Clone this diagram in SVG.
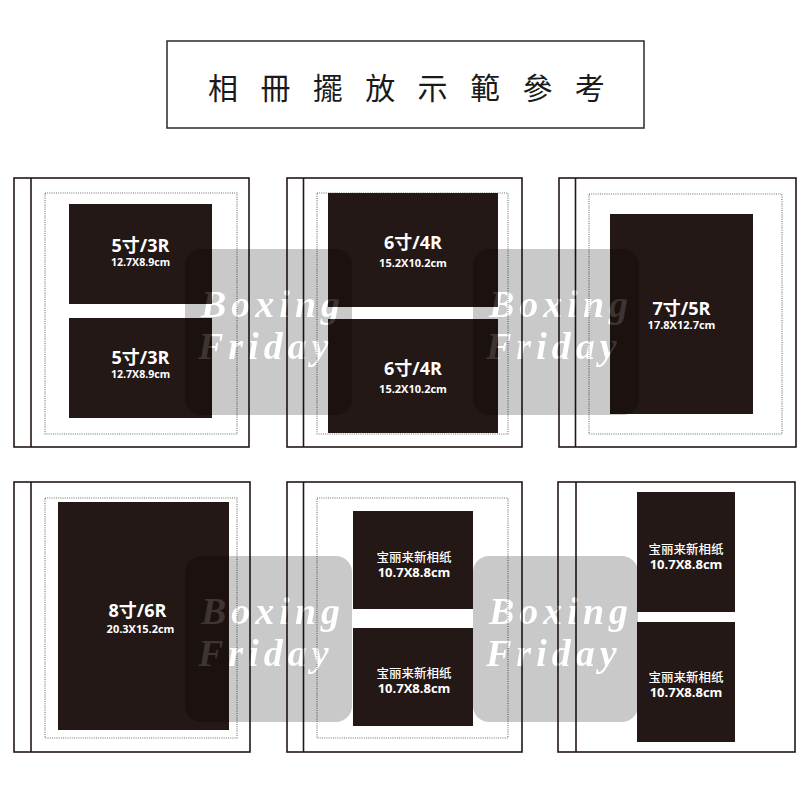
<svg xmlns="http://www.w3.org/2000/svg" xmlns:xlink="http://www.w3.org/1999/xlink" width="800" height="800" viewBox="0 0 800 800">
<style>
.page{fill:#ffffff;stroke:#231815;stroke-width:1.6}
.spine{stroke:#231815;stroke-width:1.6}
.dots{fill:none;stroke:#6f6f6f;stroke-width:1.1;stroke-dasharray:1 1.2}
.photo{fill:#231815}
.big{font-family:"Open Sans","Noto Sans CJK SC",sans-serif;font-weight:700;font-size:18px;fill:#ffffff;text-anchor:middle}
.small{font-family:"Open Sans","Noto Sans CJK SC",sans-serif;font-weight:700;font-size:10.6px;fill:#ffffff;text-anchor:middle}
.cn{font-family:"Noto Sans CJK SC",sans-serif;font-weight:500;font-size:12.5px;fill:#ffffff;text-anchor:middle}
.mid{font-family:"Open Sans","Noto Sans CJK SC",sans-serif;font-weight:700;font-size:13px;fill:#ffffff;text-anchor:middle}
.title{font-family:"Noto Sans CJK TC","Noto Sans CJK SC",serif;font-size:30px;font-weight:400;fill:#1a1a1a;letter-spacing:22.4px}
.wmbox{fill:#000000;fill-opacity:0.21}
.wmtext{font-family:"Liberation Serif",serif;font-style:italic;font-weight:700;font-size:38px;letter-spacing:5px}
</style>
<defs>
<g id="wmText">
<text class="wmtext" x="16" y="68">Boxing</text>
<text class="wmtext" x="13" y="110">Friday</text>
</g>
<mask id="wmMask" maskUnits="userSpaceOnUse" x="-5" y="-5" width="180" height="180">
<rect x="-5" y="-5" width="180" height="180" fill="#ffffff"/>
<use xlink:href="#wmText" href="#wmText" fill="#000000"/>
</mask>
</defs>
<rect x="0" y="0" width="800" height="800" fill="#ffffff"/>

<g id="title">
<rect x="167" y="41" width="477" height="87" fill="#ffffff" stroke="#2a2a2a" stroke-width="1.5"/>
<text class="title" x="208" y="99">相冊擺放示範參考</text>
</g>

<g id="album-5R-3R">
<rect class="page" x="14" y="178" width="235" height="269"/>
<line class="spine" x1="31" y1="178" x2="31" y2="447"/>
<rect class="dots" x="45" y="193" width="192" height="241"/>
<rect class="photo" x="69" y="204" width="143" height="100"/>
<rect class="photo" x="69" y="318" width="143" height="100"/>
<text class="big" x="140.5" y="252">5寸/3R</text>
<text class="small" x="140.5" y="266">12.7X8.9cm</text>
<text class="big" x="140.5" y="364">5寸/3R</text>
<text class="small" x="140.5" y="378">12.7X8.9cm</text>
</g>

<g id="album-6R-4R">
<rect class="page" x="287" y="178" width="235" height="269"/>
<line class="spine" x1="303.5" y1="178" x2="303.5" y2="447"/>
<rect class="dots" x="317" y="193" width="191" height="241"/>
<rect class="photo" x="328" y="193" width="170" height="114"/>
<rect class="photo" x="328" y="319" width="170" height="114"/>
<text class="big" x="413" y="249">6寸/4R</text>
<text class="small" x="413" y="267" style="font-size:11px">15.2X10.2cm</text>
<text class="big" x="413" y="375">6寸/4R</text>
<text class="small" x="413" y="393" style="font-size:11px">15.2X10.2cm</text>
</g>

<g id="album-7R-5R">
<rect class="page" x="559" y="178" width="237" height="269"/>
<line class="spine" x1="575.5" y1="178" x2="575.5" y2="447"/>
<rect class="dots" x="589" y="194" width="193" height="240"/>
<rect class="photo" x="610" y="214" width="143" height="200"/>
<text class="big" x="681.5" y="315">7寸/5R</text>
<text class="small" x="681.5" y="329" style="font-size:11px">17.8X12.7cm</text>
</g>

<g id="album-8R-6R">
<rect class="page" x="14" y="482" width="236" height="270"/>
<line class="spine" x1="31" y1="482" x2="31" y2="752"/>
<rect class="dots" x="45" y="498" width="192" height="240"/>
<rect class="photo" x="58" y="502" width="171" height="228"/>
<text class="big" x="137.5" y="617">8寸/6R</text>
<text class="small" x="140.5" y="633" style="font-size:11px">20.3X15.2cm</text>
</g>

<g id="album-polaroid-a">
<rect class="page" x="287" y="482" width="235" height="270"/>
<line class="spine" x1="303.5" y1="482" x2="303.5" y2="752"/>
<rect class="dots" x="317" y="498" width="191" height="240"/>
<rect class="photo" x="353" y="511" width="120" height="98"/>
<rect class="photo" x="353" y="628" width="120" height="98"/>
<text class="cn" x="414" y="562">宝丽来新相纸</text>
<text class="mid" x="414" y="577">10.7X8.8cm</text>
<text class="cn" x="414" y="678">宝丽来新相纸</text>
<text class="mid" x="414" y="693">10.7X8.8cm</text>
</g>

<g id="album-polaroid-b">
<rect class="page" x="558" y="482" width="237" height="270"/>
<line class="spine" x1="576" y1="482" x2="576" y2="752"/>
<rect class="photo" x="637" y="492" width="98" height="120"/>
<rect class="photo" x="637" y="622" width="98" height="120"/>
<text class="cn" x="686" y="554">宝丽来新相纸</text>
<text class="mid" x="686" y="569">10.7X8.8cm</text>
<text class="cn" x="686" y="682">宝丽来新相纸</text>
<text class="mid" x="686" y="697">10.7X8.8cm</text>
</g>

<g id="watermark-1" transform="translate(185,249)">
<rect class="wmbox" x="0" y="0" width="167" height="166" rx="16" mask="url(#wmMask)"/>
<use xlink:href="#wmText" href="#wmText" fill="#ffffff" fill-opacity="0.12"/>
</g>
<g id="watermark-2" transform="translate(473,249)">
<rect class="wmbox" x="0" y="0" width="166" height="166" rx="16" mask="url(#wmMask)"/>
<use xlink:href="#wmText" href="#wmText" fill="#ffffff" fill-opacity="0.12"/>
</g>
<g id="watermark-3" transform="translate(185,556)">
<rect class="wmbox" x="0" y="0" width="167" height="166" rx="16" mask="url(#wmMask)"/>
<use xlink:href="#wmText" href="#wmText" fill="#ffffff" fill-opacity="0.12"/>
</g>
<g id="watermark-4" transform="translate(473,556)">
<rect class="wmbox" x="0" y="0" width="165" height="166" rx="16" mask="url(#wmMask)"/>
<use xlink:href="#wmText" href="#wmText" fill="#ffffff" fill-opacity="0.12"/>
</g>
</svg>
